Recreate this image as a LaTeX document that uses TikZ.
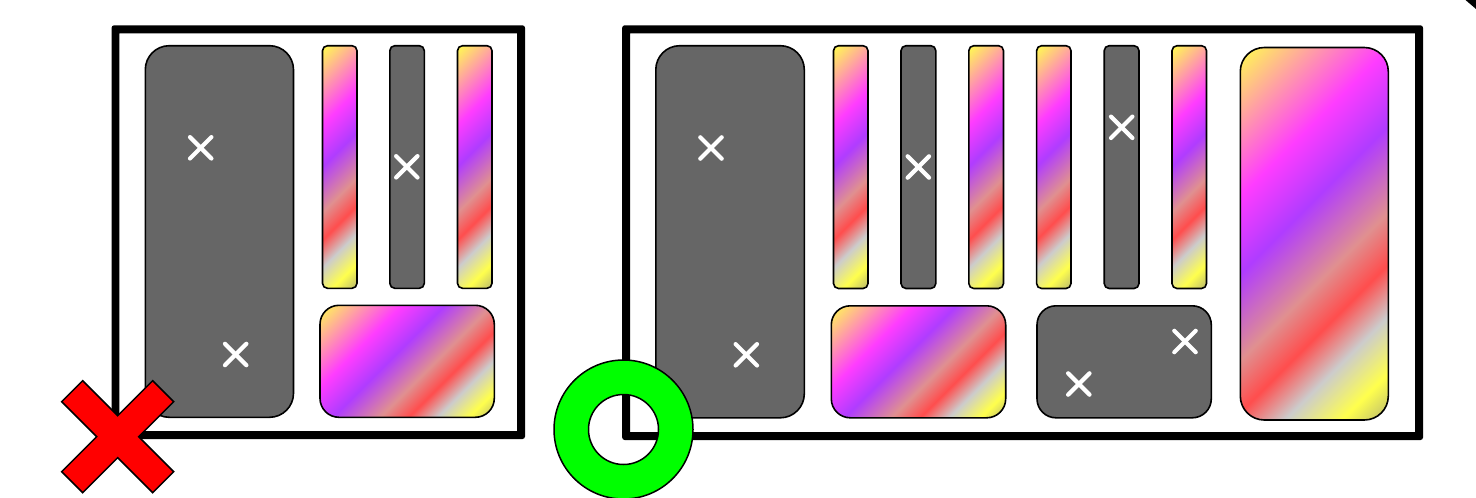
\documentclass[tikz,border=0pt]{standalone}
\definecolor{gA}{HTML}{FFFF4D}
\definecolor{gB}{HTML}{FF3CFF}
\definecolor{gC}{HTML}{B03CFF}
\definecolor{gD}{HTML}{E09090}
\definecolor{gE}{HTML}{FF4D4D}
\definecolor{gF}{HTML}{CCCCCC}
\definecolor{gG}{HTML}{FFFF4D}
\definecolor{gH}{HTML}{B8B870}
\definecolor{darkbox}{HTML}{666666}
\pgfdeclarehorizontalshading{rainbow}{100bp}{
  color(0bp)=(gA); color(28.5bp)=(gB); color(43.5bp)=(gC); color(60bp)=(gD);
  color(70bp)=(gE); color(80bp)=(gF); color(91bp)=(gG); color(100bp)=(gH)}
\tikzset{
  boxedge/.style={draw=black,line width=1.6pt},
  framefill/.style={fill=black,even odd rule},
  whitecross/.style={draw=white,line width=4.2pt,line cap=round},
  redcross/.style={draw=black,fill=red,line width=1.5pt,line join=miter},
  greenring/.style={draw=black,fill=green,line width=1.5pt,even odd rule}
}
\newcommand{\gradbox}[6]{% name x0 y0 x1 y1 r
  \pgfmathsetmacro\gs{((#4-#2)+(#5-#3))/sqrt(2)/100.375}
  \begin{scope}
    \clip[rounded corners=#6pt] (#2,#3) rectangle (#4,#5);
    \node[inner sep=0pt,outer sep=0pt,transform shape,rotate=-45,scale=\gs] (#1)
      at ({(#2+#4)/2},{(#3+#5)/2}) {\pgfuseshading{rainbow}};
  \end{scope}
  \draw[boxedge,rounded corners=#6pt] (#2,#3) rectangle (#4,#5);
}
\newcommand{\darkrect}[5]{% x0 y0 x1 y1 r
  \draw[boxedge,fill=darkbox,rounded corners=#5pt] (#1,#2) rectangle (#3,#4);
}
\newcommand{\wcross}[2]{%
  \draw[whitecross] (#1-10.7,#2-10.7) -- (#1+10.7,#2+10.7);
  \draw[whitecross] (#1-10.7,#2+10.7) -- (#1+10.7,#2-10.7);
}
\begin{document}
\begin{tikzpicture}[x=1pt,y=-1pt]
\useasboundingbox (0,0) rectangle (1476,498);
\clip (0,0) rectangle (1476,498);
% corner mark
\fill[black] (1465.5,0) -- (1476,0) -- (1476,9) -- cycle;
% left frame
\path[framefill,rounded corners=2.5pt] (111.6,25.3) rectangle (525,439)
  [sharp corners] (119.4,33.3) rectangle (517,431);
\darkrect{145.3}{45.7}{293.5}{417.3}{24}
\gradbox{a1}{322.5}{45.7}{357}{288.3}{5}
\darkrect{389.8}{45.7}{424.3}{288.3}{5}
\gradbox{a2}{457.5}{45.7}{492}{288.3}{5}
\gradbox{a3}{320}{305.3}{494.3}{417.3}{19}
\wcross{200.7}{147.8}
\wcross{235.7}{354.5}
\wcross{406.8}{166.8}
% right frame
\path[framefill,rounded corners=2.5pt] (622.2,25.3) rectangle (1423,440)
  [sharp corners] (630,33.3) rectangle (1415,432);
\darkrect{655.8}{45.7}{804.3}{417.8}{24}
\gradbox{b1}{833.5}{45.7}{868}{288.5}{5}
\darkrect{901}{45.7}{935.8}{288.5}{5}
\gradbox{b2}{968.8}{45.7}{1003.5}{288.5}{5}
\gradbox{b3}{1036.6}{45.7}{1071}{288.5}{5}
\darkrect{1104.2}{45.7}{1139}{288.5}{5}
\gradbox{b4}{1172}{45.7}{1206.5}{288.5}{5}
\gradbox{b5}{831.3}{305.8}{1005.7}{417.8}{19}
\darkrect{1037}{305.8}{1211.3}{417.8}{19}
\gradbox{b6}{1240.3}{47.5}{1388.3}{420}{24}
\wcross{711}{148}
\wcross{746.3}{354.8}
\wcross{918.3}{167}
\wcross{1121.7}{127.3}
\wcross{1185}{341.5}
\wcross{1078.8}{384}
% red cross
\begin{scope}[shift={(117.7,436.7)}]
\draw[redcross] (-35,-56) -- (0,-21) -- (35,-56) -- (56,-35) -- (21,0) -- (56,35)
  -- (35,56) -- (0,21) -- (-35,56) -- (-56,35) -- (-21,0) -- (-56,-35) -- cycle;
\end{scope}
% green ring
\draw[greenring] (623.5,429.5) circle[radius=69.5pt] (623.5,429.5) circle[radius=35pt];
\end{tikzpicture}
\end{document}
